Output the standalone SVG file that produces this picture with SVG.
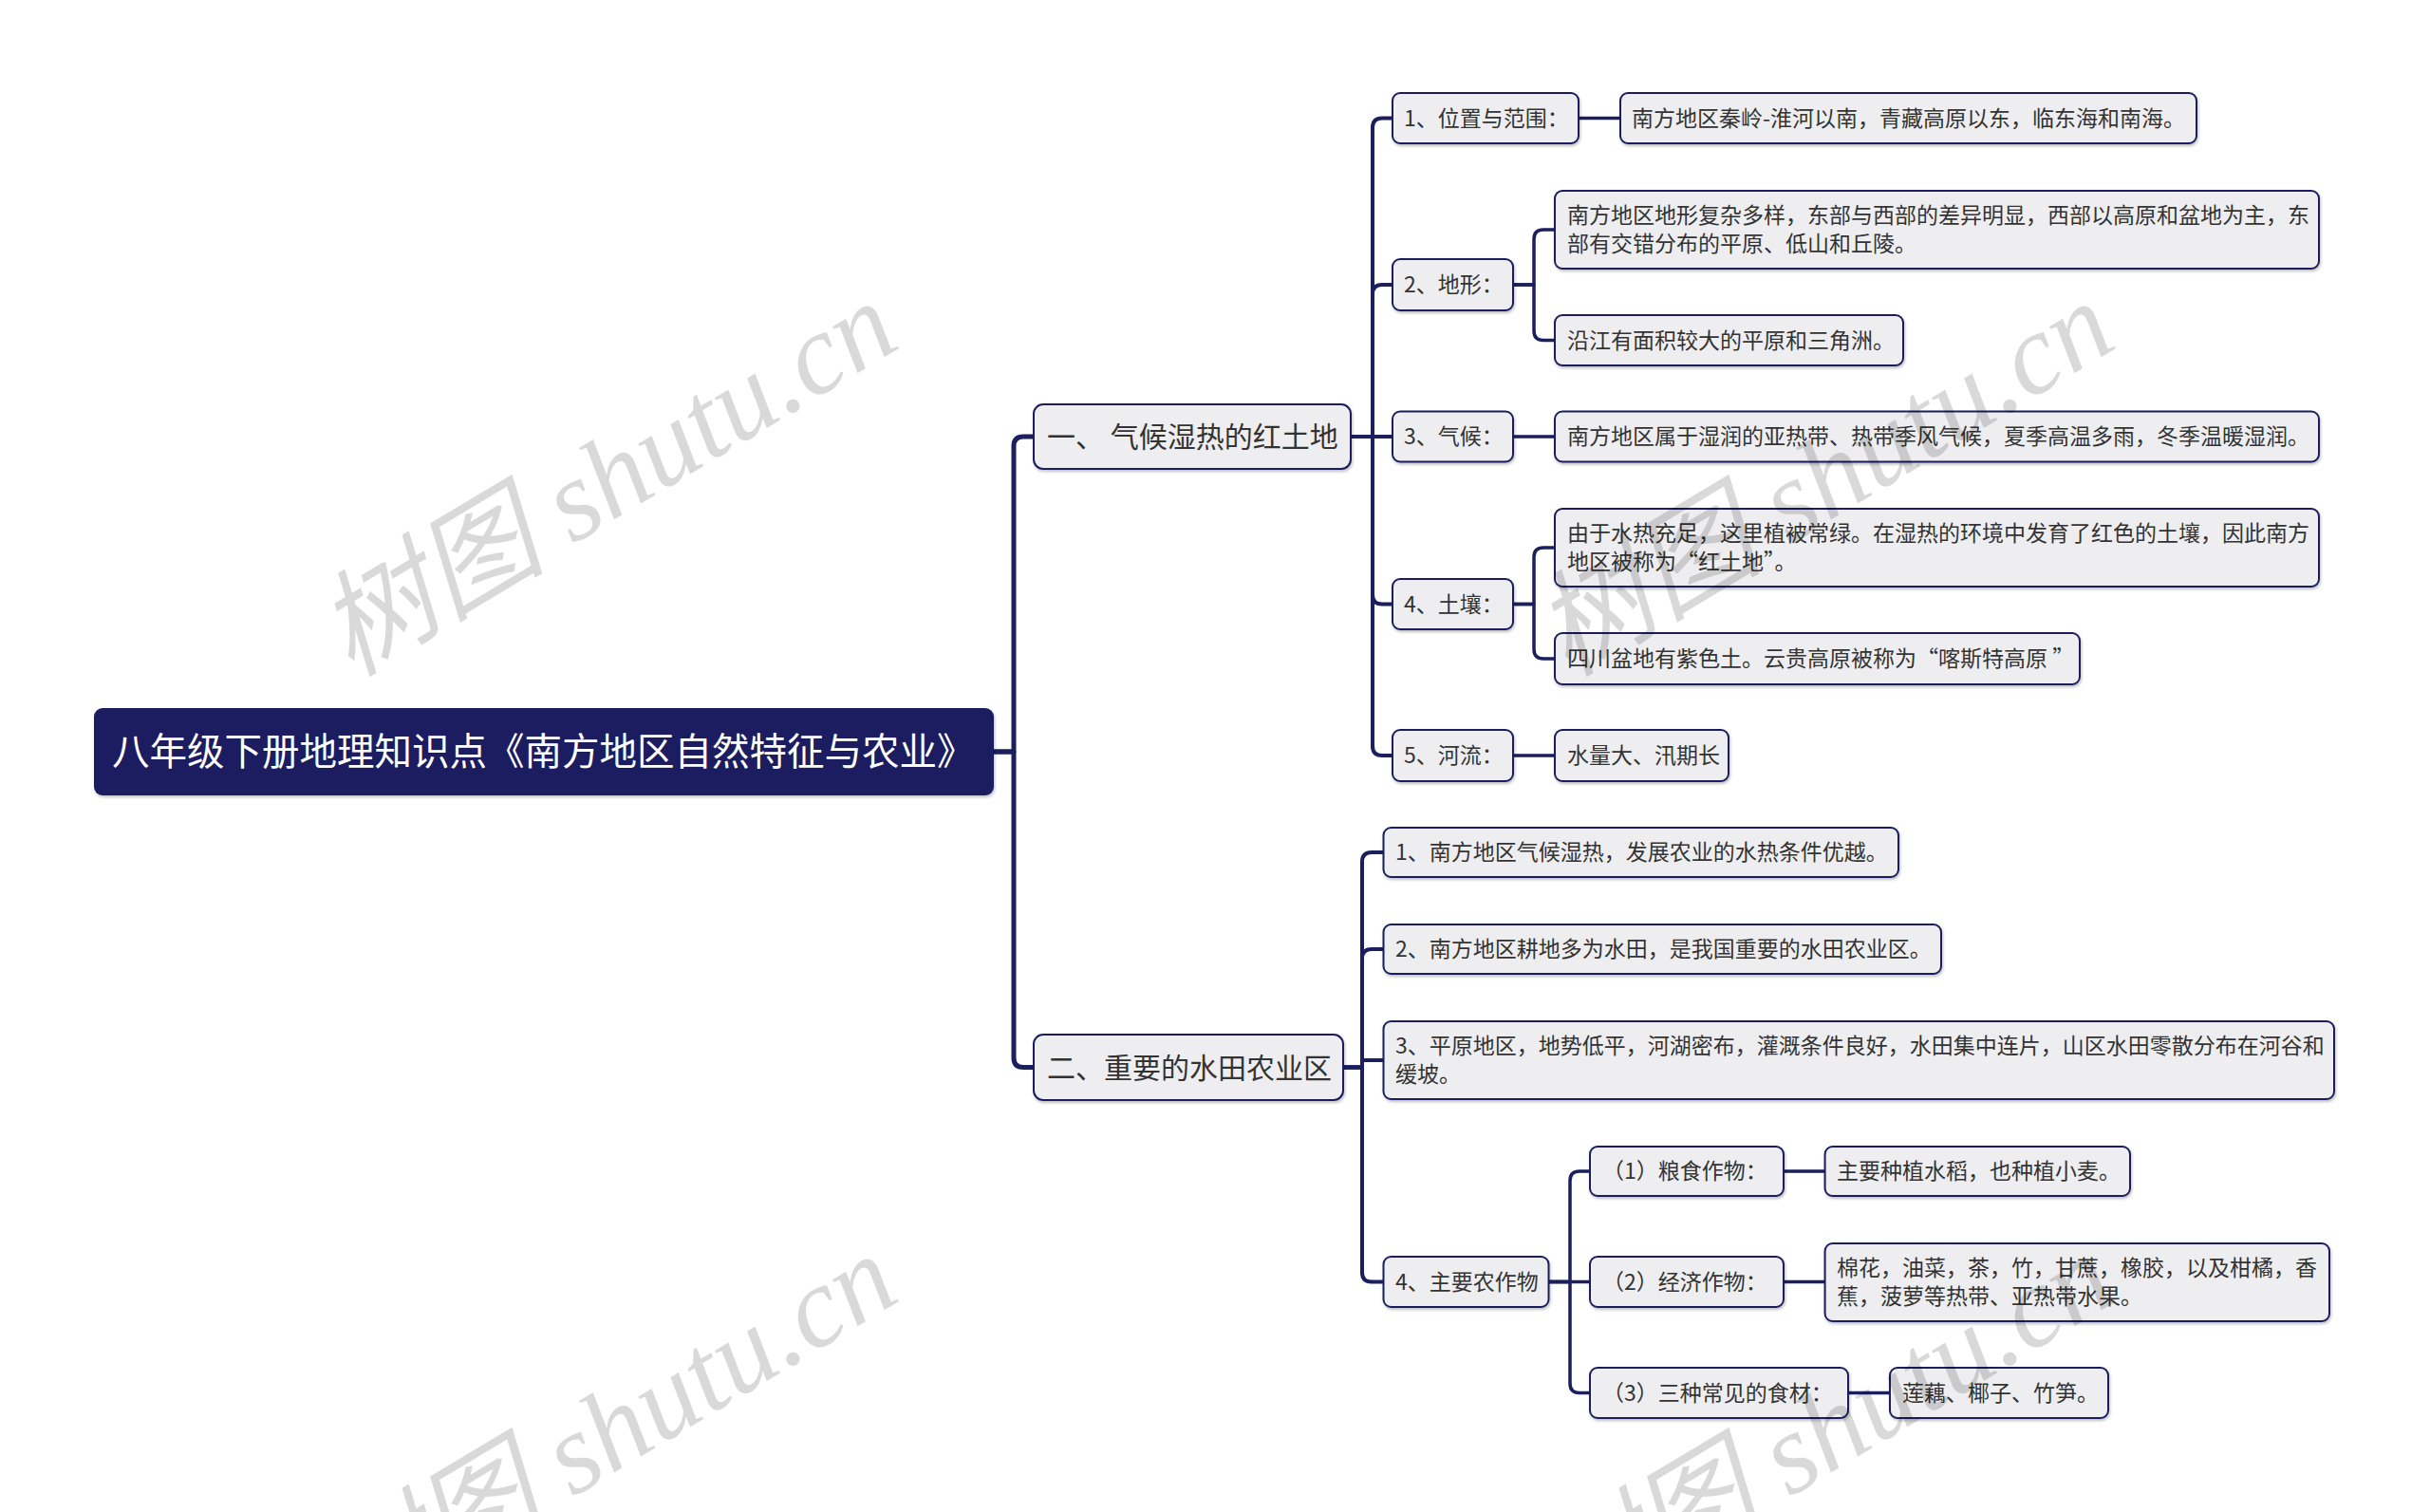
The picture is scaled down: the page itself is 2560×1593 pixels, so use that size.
<svg xmlns="http://www.w3.org/2000/svg" width="2560" height="1593" viewBox="0 0 2560 1593">
<defs>
<filter id="sh" x="-5%" y="-20%" width="110%" height="150%">
<feDropShadow dx="1" dy="2" stdDeviation="1.5" flood-color="#000" flood-opacity="0.25"/>
</filter>
<style>
.c{fill:none;stroke:#1b1f5e;stroke-linecap:round;stroke-linejoin:round}
.c0{stroke-width:5}
.c1{stroke-width:4}
.c2{stroke-width:3.5}
.n rect{fill:#eeeef0;stroke:#1b1f5e;stroke-width:2;filter:url(#sh)}
.n text{font-family:"Noto Sans CJK SC","Liberation Sans",sans-serif;font-size:23px;fill:#333}
.n1 text{font-size:30px}
.root rect{fill:#1b1f61;filter:url(#sh)}
.root text{font-family:"Noto Sans CJK SC","Liberation Sans",sans-serif;font-size:39.5px;fill:#fff}
.wm text{font-family:"Liberation Serif","Noto Sans CJK SC",serif;font-style:italic;font-size:121px;fill:#000;fill-opacity:0.15;text-anchor:middle}
</style>
</defs>
<rect width="2560" height="1593" fill="#fff"/>
<g id="connectors">
<path class="c c0" d="M1047 792 H1068 V470 Q1068 460 1078 460 H1089"/>
<path class="c c0" d="M1047 792 H1068 V1114.5 Q1068 1124.5 1078 1124.5 H1089"/>
<path class="c c1" d="M1423 460 H1446 V134.5 Q1446 124.5 1456 124.5 H1467"/>
<path class="c c1" d="M1423 460 H1446 V310 Q1446 300 1456 300 H1467"/>
<path class="c c1" d="M1423 460 H1467"/>
<path class="c c1" d="M1423 460 H1446 V626.5 Q1446 636.5 1456 636.5 H1467"/>
<path class="c c1" d="M1423 460 H1446 V786 Q1446 796 1456 796 H1467"/>
<path class="c c1" d="M1415 1124.5 H1435 V908 Q1435 898 1445 898 H1457.5"/>
<path class="c c1" d="M1415 1124.5 H1435 V1010 Q1435 1000 1445 1000 H1457.5"/>
<path class="c c1" d="M1415 1124.5 H1435 V1117 H1457.5"/>
<path class="c c1" d="M1415 1124.5 H1435 V1340.5 Q1435 1350.5 1445 1350.5 H1457.5"/>
<path class="c c2" d="M1663 124.5 H1707"/>
<path class="c c2" d="M1594 300 H1616 V252 Q1616 242 1626 242 H1638"/>
<path class="c c2" d="M1594 300 H1616 V348.5 Q1616 358.5 1626 358.5 H1638"/>
<path class="c c2" d="M1594 460 H1638"/>
<path class="c c2" d="M1594 636.5 H1616 V587 Q1616 577 1626 577 H1638"/>
<path class="c c2" d="M1594 636.5 H1616 V684 Q1616 694 1626 694 H1638"/>
<path class="c c2" d="M1594 796 H1638"/>
<path class="c c2" d="M1631.5 1350.5 H1654 V1244 Q1654 1234 1664 1234 H1675"/>
<path class="c c2" d="M1631.5 1350.5 H1675"/>
<path class="c c2" d="M1631.5 1350.5 H1654 V1457.5 Q1654 1467.5 1664 1467.5 H1675"/>
<path class="c c2" d="M1879 1234 H1922.6"/>
<path class="c c2" d="M1879 1350.5 H1922.6"/>
<path class="c c2" d="M1947 1467.5 H1991"/>
</g>
<g id="root" class="root"><rect x="99" y="746" width="948" height="92" rx="9"/><text x="118" y="806">八年级下册地理知识点《南方地区自然特征与农业》</text></g>
<g id="n-1" class="n n1"><rect x="1089" y="426" width="334" height="68" rx="10"/><text x="1103" y="471">一、 气候湿热的红土地</text></g>
<g id="n-2" class="n n1"><rect x="1089" y="1090" width="326" height="69" rx="10"/><text x="1103" y="1135.5">二、重要的水田农业区</text></g>
<g id="n-1-1" class="n"><rect x="1467" y="98" width="196" height="53" rx="8"/><text x="1479" y="132.5">1、位置与范围：</text></g>
<g id="n-1-2" class="n"><rect x="1467" y="273" width="127" height="54" rx="8"/><text x="1479" y="308">2、地形：</text></g>
<g id="n-1-3" class="n"><rect x="1467" y="433.5" width="127" height="53" rx="8"/><text x="1479" y="468">3、气候：</text></g>
<g id="n-1-4" class="n"><rect x="1467" y="610" width="127" height="53" rx="8"/><text x="1479" y="644.5">4、土壤：</text></g>
<g id="n-1-5" class="n"><rect x="1467" y="769" width="127" height="54" rx="8"/><text x="1479" y="804">5、河流：</text></g>
<g id="n-1-1-1" class="n"><rect x="1707" y="98" width="607" height="53" rx="8"/><text x="1719" y="132.5">南方地区秦岭-淮河以南，青藏高原以东，临东海和南海。</text></g>
<g id="n-1-2-1" class="n"><rect x="1638" y="201" width="805" height="82" rx="8"/><text x="1651" y="235">南方地区地形复杂多样，东部与西部的差异明显，西部以高原和盆地为主，东</text><text x="1651" y="265">部有交错分布的平原、低山和丘陵。</text></g>
<g id="n-1-2-2" class="n"><rect x="1638" y="332" width="367" height="53" rx="8"/><text x="1651" y="366.5">沿江有面积较大的平原和三角洲。</text></g>
<g id="n-1-3-1" class="n"><rect x="1638" y="433.5" width="805" height="53" rx="8"/><text x="1651" y="468">南方地区属于湿润的亚热带、热带季风气候，夏季高温多雨，冬季温暖湿润。</text></g>
<g id="n-1-4-1" class="n"><rect x="1638" y="536" width="805" height="82" rx="8"/><text x="1651" y="570">由于水热充足，这里植被常绿。在湿热的环境中发育了红色的土壤，因此南方</text><text x="1651" y="600">地区被称为“红土地”。</text></g>
<g id="n-1-4-2" class="n"><rect x="1638" y="667" width="553" height="54" rx="8"/><text x="1651" y="702">四川盆地有紫色土。云贵高原被称为“喀斯特高原 ”</text></g>
<g id="n-1-5-1" class="n"><rect x="1638" y="769" width="183" height="54" rx="8"/><text x="1651" y="804">水量大、汛期长</text></g>
<g id="n-2-1" class="n"><rect x="1457.5" y="872" width="542.5" height="52" rx="8"/><text x="1470" y="906">1、南方地区气候湿热，发展农业的水热条件优越。</text></g>
<g id="n-2-2" class="n"><rect x="1457.5" y="974" width="587.5" height="52" rx="8"/><text x="1470" y="1008">2、南方地区耕地多为水田，是我国重要的水田农业区。</text></g>
<g id="n-2-3" class="n"><rect x="1457.5" y="1076" width="1001.5" height="82" rx="8"/><text x="1470" y="1110">3、平原地区，地势低平，河湖密布，灌溉条件良好，水田集中连片，山区水田零散分布在河谷和</text><text x="1470" y="1140">缓坡。</text></g>
<g id="n-2-4" class="n"><rect x="1457.5" y="1324" width="174" height="53" rx="8"/><text x="1470" y="1358.5">4、主要农作物</text></g>
<g id="n-2-4-1" class="n"><rect x="1675" y="1208" width="204" height="52" rx="8"/><text x="1688" y="1242">（1）粮食作物：</text></g>
<g id="n-2-4-2" class="n"><rect x="1675" y="1324" width="204" height="53" rx="8"/><text x="1688" y="1358.5">（2）经济作物：</text></g>
<g id="n-2-4-3" class="n"><rect x="1675" y="1441" width="272" height="53" rx="8"/><text x="1688" y="1475.5">（3）三种常见的食材：</text></g>
<g id="n-2-4-1-1" class="n"><rect x="1922.6" y="1208" width="321.4" height="52" rx="8"/><text x="1935" y="1242">主要种植水稻，也种植小麦。</text></g>
<g id="n-2-4-2-1" class="n"><rect x="1922.6" y="1310" width="531.4" height="82" rx="8"/><text x="1935" y="1344">棉花，油菜，茶，竹，甘蔗，橡胶，以及柑橘，香</text><text x="1935" y="1374">蕉，菠萝等热带、亚热带水果。</text></g>
<g id="n-2-4-3-1" class="n"><rect x="1991" y="1441" width="230" height="53" rx="8"/><text x="2004" y="1475.5">莲藕、椰子、竹笋。</text></g>
<g class="wm">
<text transform="translate(640,505) rotate(-31)" y="40">树图 shutu.cn</text>
<text transform="translate(1922,505) rotate(-31)" y="40">树图 shutu.cn</text>
<text transform="translate(640,1509) rotate(-31)" y="40">树图 shutu.cn</text>
<text transform="translate(1922,1509) rotate(-31)" y="40">树图 shutu.cn</text>
</g>
</svg>
